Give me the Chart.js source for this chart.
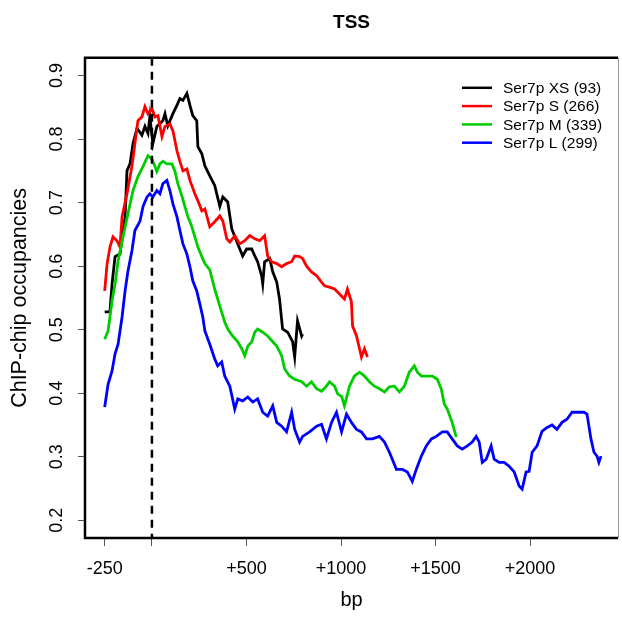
<!DOCTYPE html>
<html>
<head>
<meta charset="utf-8">
<title>TSS</title>
<script src="https://cdn.jsdelivr.net/npm/chart.js@4.4.1/dist/chart.umd.min.js"></script>
<style>
  html, body { margin: 0; padding: 0; background: #fff; }
  canvas { display: block; }
</style>
</head>
<body>
<canvas id="tssChart" width="622" height="618" style="width:622px;height:618px"></canvas>
<script>
// distance from TSS (bp) and ChIP-chip occupancy per length class
const xsBp = [-250,-222,-211,-195,-169,-142,-132,-116,-100,-79,-53,-37,-21,-11,5,26,58,69,84,111,132,148,164,185,201,216,237,243,264,280,306,332,359,375,401,422,454,480,501,528,544,559,580,586,596,623,639,660,675,691,718,744,755,770,792,797];
const xsOcc = [0.528,0.528,0.572,0.615,0.619,0.678,0.750,0.761,0.793,0.817,0.806,0.820,0.809,0.835,0.793,0.820,0.829,0.840,0.821,0.840,0.853,0.864,0.861,0.872,0.853,0.837,0.829,0.788,0.777,0.758,0.742,0.727,0.694,0.709,0.701,0.659,0.635,0.616,0.627,0.627,0.616,0.607,0.585,0.572,0.607,0.612,0.591,0.575,0.548,0.501,0.496,0.481,0.457,0.514,0.490,0.493];

const sBp = [-250,-237,-222,-206,-185,-169,-158,-132,-106,-90,-74,-53,-37,-21,0,16,32,53,69,95,111,132,148,164,185,201,227,243,264,280,306,332,359,375,396,412,438,464,491,517,544,570,596,612,633,660,686,712,739,755,781,797,818,844,871,897,913,939,966,992,1018,1034,1055,1061,1082,1098,1108,1124,1140];
const sOcc = [0.561,0.604,0.630,0.646,0.640,0.630,0.678,0.714,0.757,0.793,0.829,0.835,0.851,0.840,0.848,0.835,0.837,0.804,0.820,0.824,0.813,0.782,0.765,0.750,0.753,0.735,0.714,0.703,0.687,0.690,0.662,0.670,0.679,0.671,0.643,0.638,0.648,0.635,0.640,0.648,0.643,0.640,0.648,0.616,0.607,0.604,0.599,0.604,0.607,0.616,0.615,0.612,0.600,0.591,0.585,0.575,0.569,0.567,0.564,0.556,0.548,0.564,0.544,0.506,0.490,0.470,0.457,0.470,0.457];

const mBp = [-250,-232,-211,-195,-179,-153,-127,-100,-74,-47,-21,0,26,42,58,79,106,121,137,158,174,190,211,227,243,264,280,306,332,359,385,401,427,454,475,491,507,528,544,559,586,612,639,660,686,702,728,755,792,818,844,871,897,923,939,966,982,1003,1018,1045,1071,1098,1124,1150,1177,1203,1230,1256,1282,1309,1335,1361,1388,1404,1425,1451,1483,1509,1530,1546,1562,1588,1609];
const mOcc = [0.485,0.498,0.545,0.572,0.608,0.646,0.682,0.719,0.741,0.757,0.774,0.769,0.749,0.761,0.765,0.761,0.761,0.750,0.730,0.711,0.694,0.678,0.662,0.646,0.630,0.615,0.604,0.594,0.564,0.537,0.512,0.501,0.490,0.481,0.470,0.459,0.474,0.481,0.496,0.501,0.496,0.490,0.481,0.474,0.459,0.438,0.427,0.422,0.418,0.411,0.418,0.407,0.403,0.411,0.418,0.411,0.399,0.395,0.380,0.411,0.427,0.433,0.427,0.418,0.411,0.407,0.402,0.410,0.411,0.402,0.411,0.433,0.443,0.433,0.427,0.427,0.427,0.422,0.407,0.383,0.375,0.354,0.331];

const lBp = [-250,-232,-211,-195,-179,-158,-142,-127,-106,-90,-63,-47,-26,-11,5,26,42,58,79,95,111,132,148,164,185,201,216,237,253,269,280,306,332,348,369,385,412,438,454,480,507,533,559,586,612,639,660,686,712,739,755,781,797,834,871,897,923,950,976,1003,1029,1055,1082,1108,1135,1166,1203,1230,1256,1293,1325,1351,1377,1398,1425,1451,1478,1504,1536,1562,1588,1615,1641,1668,1694,1715,1731,1747,1768,1794,1810,1836,1863,1889,1916,1942,1958,1979,1995,2011,2037,2063,2090,2116,2142,2169,2195,2222,2259,2285,2301,2322,2338,2354,2364,2375];
const lOcc = [0.378,0.414,0.435,0.462,0.477,0.520,0.561,0.592,0.624,0.656,0.671,0.694,0.709,0.714,0.709,0.719,0.714,0.730,0.735,0.719,0.698,0.678,0.656,0.635,0.619,0.599,0.577,0.561,0.541,0.520,0.498,0.477,0.454,0.443,0.449,0.427,0.411,0.375,0.391,0.388,0.394,0.386,0.391,0.370,0.364,0.380,0.354,0.348,0.339,0.370,0.343,0.323,0.332,0.339,0.348,0.351,0.328,0.354,0.370,0.339,0.367,0.354,0.343,0.339,0.328,0.328,0.332,0.323,0.307,0.280,0.280,0.276,0.261,0.280,0.301,0.317,0.328,0.332,0.339,0.339,0.328,0.317,0.312,0.317,0.323,0.332,0.323,0.291,0.296,0.317,0.296,0.291,0.291,0.285,0.276,0.254,0.249,0.276,0.277,0.307,0.317,0.340,0.346,0.350,0.343,0.354,0.359,0.370,0.370,0.370,0.367,0.328,0.307,0.301,0.291,0.301];

const seriesLabels = ["Ser7p XS (93)", "Ser7p S (266)", "Ser7p M (339)", "Ser7p L (299)"];
const seriesColors = ["#000000", "#ff0000", "#00cd00", "#0000ff"];

const bpTicks = [-250, 0, 500, 1000, 1500, 2000];
const occTicks = [0.2, 0.3, 0.4, 0.5, 0.6, 0.7, 0.8, 0.9];

const FONT = "'Liberation Sans', Arial, Helvetica, sans-serif";

function points(xs, ys) {
    return xs.map((x, i) => ({ x: x, y: ys[i] }));
}

const seriesData = [points(xsBp, xsOcc), points(sBp, sOcc), points(mBp, mOcc), points(lBp, lOcc)];

// frame round the plot region (right side is only a faint edge), plus the dashed TSS marker
const frame = {
    id: "frame",
    afterDatasetsDraw(chart) {
        const { ctx, chartArea: a } = chart;
        const x0 = chart.scales.x.getPixelForValue(0);
        ctx.save();
        ctx.strokeStyle = "#000";
        ctx.lineWidth = 2.5;
        ctx.setLineDash([8, 6]);
        ctx.beginPath();
        ctx.moveTo(x0, a.top);
        ctx.lineTo(x0, a.bottom);
        ctx.stroke();
        ctx.setLineDash([]);
        ctx.beginPath();
        ctx.moveTo(a.right, a.top);
        ctx.lineTo(a.left, a.top);
        ctx.lineTo(a.left, a.bottom);
        ctx.lineTo(a.right, a.bottom);
        ctx.stroke();
        ctx.strokeStyle = "#999";
        ctx.lineWidth = 1;
        ctx.beginPath();
        ctx.moveTo(a.right + 0.5, a.top);
        ctx.lineTo(a.right + 0.5, a.bottom);
        ctx.stroke();
        ctx.restore();
    }
};

// legend sits inside the plot, top right, no box
const insideLegend = {
    id: "insideLegend",
    afterDraw(chart) {
        const { ctx, chartArea: a } = chart;
        ctx.save();
        ctx.font = "15.5px " + FONT;
        ctx.textBaseline = "middle";
        ctx.textAlign = "left";
        chart.data.datasets.forEach((ds, i) => {
            const y = a.top + 30 + i * 18.3;
            const x = a.right - 156;
            ctx.strokeStyle = ds.borderColor;
            ctx.lineWidth = 2.5;
            ctx.beginPath();
            ctx.moveTo(x, y);
            ctx.lineTo(x + 30, y);
            ctx.stroke();
            ctx.fillStyle = "#000";
            ctx.fillText(ds.label, x + 41, y + 1);
        });
        ctx.restore();
    }
};

new Chart(document.getElementById("tssChart"), {
    type: "line",
    data: {
        datasets: seriesLabels.map((label, i) => ({
            label: label,
            data: seriesData[i],
            borderColor: seriesColors[i],
            backgroundColor: seriesColors[i],
            borderWidth: 2.8,
            pointRadius: 0,
            tension: 0,
            fill: false,
            order: 4 - i
        }))
    },
    options: {
        responsive: false,
        animation: false,
        devicePixelRatio: 1,
        events: [],
        layout: { padding: { left: 0, right: 4, top: 0, bottom: 0 } },
        plugins: {
            legend: { display: false },
            tooltip: { enabled: false },
            title: {
                display: true,
                text: "TSS",
                fullSize: false,
                color: "#000",
                font: { family: FONT, size: 19, weight: "bold" },
                padding: { top: 11, bottom: 24 }
            }
        },
        scales: {
            x: {
                type: "linear",
                min: -354,
                max: 2465,
                afterFit(scale) { scale.height = 80; },
                afterBuildTicks(scale) { scale.ticks = bpTicks.map(v => ({ value: v })); },
                border: { display: false },
                grid: { drawOnChartArea: false, drawTicks: true, tickLength: 8, color: "#555", lineWidth: 1 },
                ticks: {
                    color: "#000",
                    font: { family: FONT, size: 18 },
                    padding: 12,
                    maxRotation: 0,
                    autoSkip: false,
                    callback: v => v === 0 ? "" : (v > 0 ? "+" + v : String(v))
                },
                title: {
                    display: true,
                    text: "bp",
                    color: "#000",
                    font: { family: FONT, size: 20 },
                    padding: { top: 0, bottom: 6 }
                }
            },
            y: {
                type: "linear",
                min: 0.172,
                max: 0.928,
                afterFit(scale) { scale.width = 85; },
                afterBuildTicks(scale) { scale.ticks = occTicks.map(v => ({ value: v })); },
                border: { display: false },
                grid: { drawOnChartArea: false, drawTicks: true, tickLength: 7, color: "#555", lineWidth: 1 },
                ticks: {
                    color: "#000",
                    font: { family: FONT, size: 18 },
                    padding: 8,
                    minRotation: 90,
                    maxRotation: 90,
                    crossAlign: "center",
                    autoSkip: false,
                    callback: v => v.toFixed(1)
                },
                title: {
                    display: true,
                    text: "ChIP-chip occupancies",
                    color: "#000",
                    font: { family: FONT, size: 21.5 },
                    padding: { top: 7, bottom: 0 }
                }
            }
        }
    },
    plugins: [frame, insideLegend]
});
</script>
</body>
</html>
